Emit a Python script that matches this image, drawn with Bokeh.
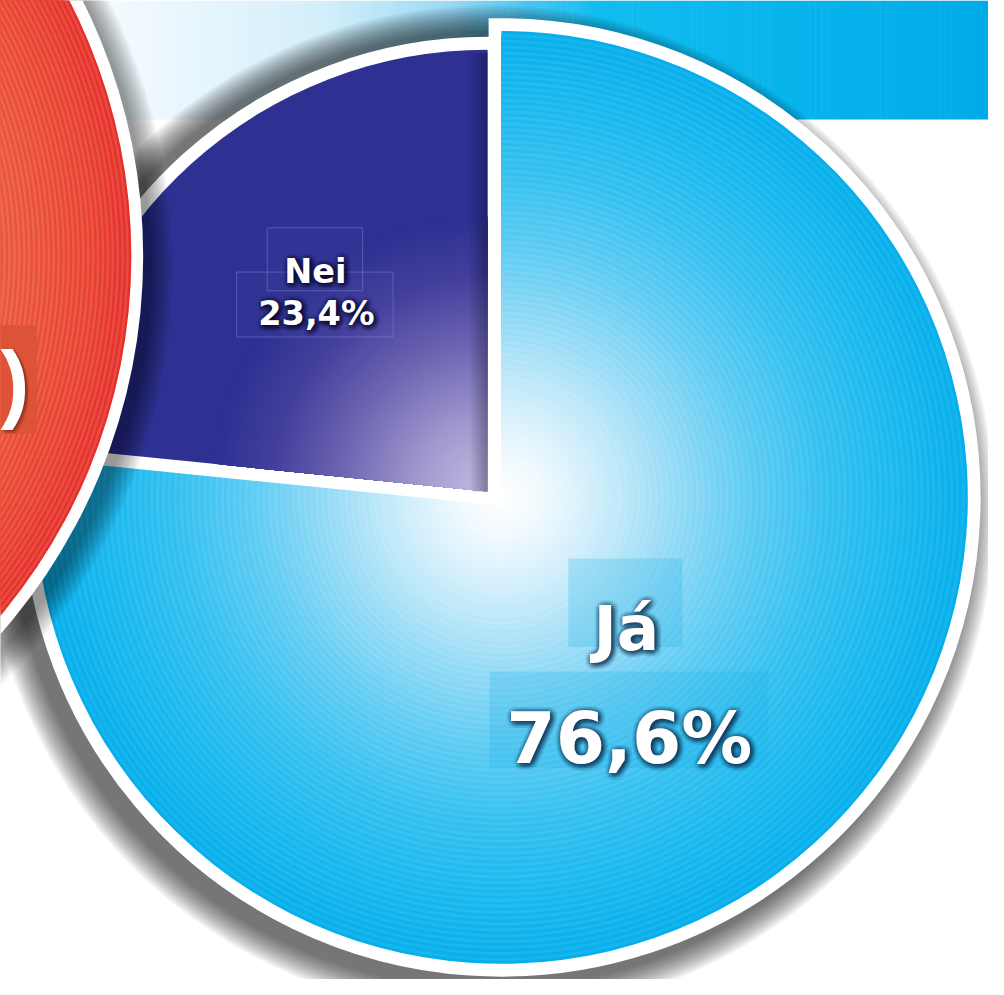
import numpy as np
from bokeh.plotting import figure
from bokeh.models import Range1d
from bokeh.embed import file_html
from bokeh.resources import INLINE
from bokeh.core.properties import value

# ---------------- data ----------------
labels = ["Já", "Nei"]
shares = [76.6, 23.4]
share_texts = ["76,6%", "23,4%"]
side_text = [")"]

# ---------------- layout ----------------
W, H = 988, 979
REF_W, REF_H = 1004, 995   # coordinates below are reference-image pixels
S = W / REF_W


def Y(y):
    return -np.asarray(y, dtype=float)


def fs(px):
    return "%.1fpx" % (px * S)


p = figure(width=W, height=H, x_range=Range1d(0, REF_W),
           y_range=Range1d(-REF_H, 0), output_backend="svg",
           toolbar_location=None, min_border=0)
p.axis.visible = False
p.grid.visible = False
p.outline_line_color = None
p.background_fill_color = "white"
p.border_fill_color = "white"


def hex2rgb(h):
    h = h.lstrip("#")
    return np.array([int(h[i:i + 2], 16) for i in (0, 2, 4)], dtype=float)


def rgb2hex(c):
    c = np.clip(np.round(c), 0, 255).astype(int)
    return "#%02x%02x%02x" % tuple(c)


def grad(stops, t):
    pos = [s[0] for s in stops]
    cols = [hex2rgb(s[1]) for s in stops]
    if t <= pos[0]:
        return rgb2hex(cols[0])
    if t >= pos[-1]:
        return rgb2hex(cols[-1])
    for i in range(len(pos) - 1):
        if pos[i] <= t <= pos[i + 1]:
            f = (t - pos[i]) / (pos[i + 1] - pos[i])
            return rgb2hex(cols[i] * (1 - f) + cols[i + 1] * f)


def lighten(h, f):
    c = hex2rgb(h)
    return rgb2hex(c + (255 - c) * f)


# ---------------- top band ----------------
band_stops = [(0, "#ffffff"), (120, "#f3fafe"), (330, "#d3eefa"), (460, "#97d9f5"),
              (530, "#4cc7f2"), (610, "#10bcef"), (1004, "#00abe9")]
edges = np.arange(0, 1010, 6)
p.quad(left=edges[:-1], right=edges[1:] + 0.5, top=Y(0), bottom=Y(121),
       fill_color=[grad(band_stops, e + 3) for e in edges[:-1]], line_color=None)

# ---------------- pie geometry (angles from data) ----------------
total = float(sum(shares))
cum = np.concatenate([[0.0], np.cumsum(shares)]) / total
starts = np.pi / 2 - 2 * np.pi * cum[:-1]   # clockwise from 12 o'clock
ends = np.pi / 2 - 2 * np.pi * cum[1:]

JA_C = (509, 505)
JA_R = 474
NEI_C = (495, 499)
NEI_R = 449
RIM = 13

# soft shadow of the pie
sh_r = [JA_R + RIM + 2 * k for k in range(14)][::-1]
p.circle(x=[JA_C[0] - 12] * len(sh_r), y=list(Y([JA_C[1] + 13] * len(sh_r))),
         radius=sh_r, fill_color="#000000", fill_alpha=0.05, line_color=None)

# Já slice: white rim, then gradient rings
p.wedge(x=[JA_C[0]], y=list(Y([JA_C[1]])), radius=[JA_R], start_angle=[starts[0]],
        end_angle=[ends[0]], direction="clock", fill_color="white", line_color="white",
        line_width=2 * RIM * S, line_join="miter")
ja_stops = [(0, "#ffffff"), (40, "#f2fafe"), (100, "#cfeefb"), (170, "#9adcf6"),
            (250, "#60ccf3"), (330, "#33c0f0"), (420, "#14b6ee"), (474, "#06afec")]
radii = np.arange(JA_R, 0, -3)
cols = []
for i, r in enumerate(radii):
    c = grad(ja_stops, r)
    if i % 2 == 1 and r > 120:
        c = lighten(c, 0.07)
    cols.append(c)
n = len(radii)
p.wedge(x=[JA_C[0]] * n, y=list(Y([JA_C[1]] * n)), radius=list(radii),
        start_angle=[starts[0]] * n, end_angle=[ends[0]] * n, direction="clock",
        fill_color=cols, line_color=None)

# Nei slice: white rim, base fill, glow rings, edge shading
p.wedge(x=[NEI_C[0]], y=list(Y([NEI_C[1]])), radius=[NEI_R], start_angle=[starts[1]],
        end_angle=[ends[1]], direction="clock", fill_color="white", line_color="white",
        line_width=2 * RIM * S, line_join="miter")
p.wedge(x=[NEI_C[0]], y=list(Y([NEI_C[1]])), radius=[NEI_R], start_angle=[starts[1]],
        end_angle=[ends[1]], direction="clock", fill_color="#2e3192", line_color=None)
nei_stops = [(0, "#c4bde3"), (70, "#a39bcf"), (150, "#6e66b2"), (220, "#433f9c"),
             (280, "#2e3192")]
nr = np.arange(280, 0, -3)
m = len(nr)
p.wedge(x=[NEI_C[0]] * m, y=list(Y([NEI_C[1]] * m)), radius=list(nr),
        start_angle=[starts[1]] * m, end_angle=[ends[1]] * m, direction="clock",
        fill_color=[grad(nei_stops, r) for r in nr], line_color=None)
sx = np.arange(NEI_C[0] - 18, NEI_C[0], 2)
p.quad(left=sx, right=sx + 2, top=Y(NEI_C[1] - NEI_R + 3), bottom=Y(NEI_C[1]),
       fill_color="#0a0a25", fill_alpha=[0.04 * (k + 1) for k in range(len(sx))],
       line_color=None)

# label boxes (Nei)
p.quad(left=[271, 240], right=[368, 399], top=list(Y([231, 276])), bottom=list(Y([295, 342])),
       fill_color="#6a6ac0", fill_alpha=0.06, line_color="#8c8cd8", line_alpha=0.45,
       line_width=1)
# label boxes (Já)
p.quad(left=[577, 497], right=[693, 780], top=list(Y([567, 682])), bottom=list(Y([657, 780])),
       fill_color="#1aaee8", fill_alpha=0.24, line_color=None)


def halo_text(x, y, txt, size, shadow, alpha):
    xs, ys, ts = [], [], []
    for rr in (1.5, 3.0, 4.5, 6.0):
        for a in np.linspace(0, 2 * np.pi, 12, endpoint=False):
            xs.append(x + 1.5 + rr * np.cos(a))
            ys.append(-(y + 1.5) + rr * np.sin(a))
            ts.append(txt)
    p.text(x=xs, y=ys, text=ts, text_font=value("DejaVu Sans"), text_font_style="bold",
           text_font_size=fs(size), text_align="center", text_baseline="alphabetic",
           text_color=shadow, text_alpha=alpha)
    p.text(x=[x], y=[-y], text=[txt], text_font=value("DejaVu Sans"), text_font_style="bold",
           text_font_size=fs(size), text_align="center", text_baseline="alphabetic",
           text_color="white")


halo_text(320, 275, labels[1], 34, "#0b0b30", 0.07)
halo_text(321, 318, share_texts[1], 34, "#0b0b30", 0.07)
halo_text(636, 638, labels[0], 64, "#0b3050", 0.06)
halo_text(639, 750, share_texts[0], 72, "#0b3050", 0.06)

# ---------------- red disc on the left ----------------
RC = (-435, 260)
RR = 568
rs = [RR + 12 + 2 * k for k in range(12)][::-1]
p.circle(x=[RC[0] + 8] * len(rs), y=list(Y([RC[1] + 12] * len(rs))), radius=rs,
         fill_color="#000000", fill_alpha=0.04, line_color=None)
p.circle(x=[RC[0]], y=list(Y([RC[1]])), radius=[RR + 12], fill_color="white", line_color=None)
red_stops = [(420, "#ec5a3e"), (480, "#ea4e37"), (530, "#e8402f"), (568, "#e5302a")]
rr = np.arange(RR, 420, -2.5)
rc = []
for i, r in enumerate(rr):
    c = grad(red_stops, r)
    if i % 2 == 1:
        c = lighten(c, 0.12)
    rc.append(c)
k = len(rr)
p.circle(x=[RC[0]] * k, y=list(Y([RC[1]] * k)), radius=list(rr), fill_color=rc,
         line_color=None)

p.quad(left=[0], right=[37], top=list(Y([330])), bottom=list(Y([440])),
       fill_color="#dc5338", line_color=None)
sh_dx = [1, 2, 3, 4, 2, 3]
sh_dy = [1, 2, 3, 4, -1, 1]
p.text(x=[0 + d for d in sh_dx], y=[-388 - d for d in sh_dy], text=side_text * len(sh_dx),
       text_font=value("Liberation Sans"), text_font_style="bold", text_font_size=fs(88),
       text_align="left", text_baseline="middle", text_color="#5a1a10", text_alpha=0.12)
p.text(x=[0], y=[-388], text=side_text, text_font=value("Liberation Sans"),
       text_font_style="bold", text_font_size=fs(88), text_align="left",
       text_baseline="middle", text_color="white")

open("out.html", "w").write(file_html(p, INLINE))
